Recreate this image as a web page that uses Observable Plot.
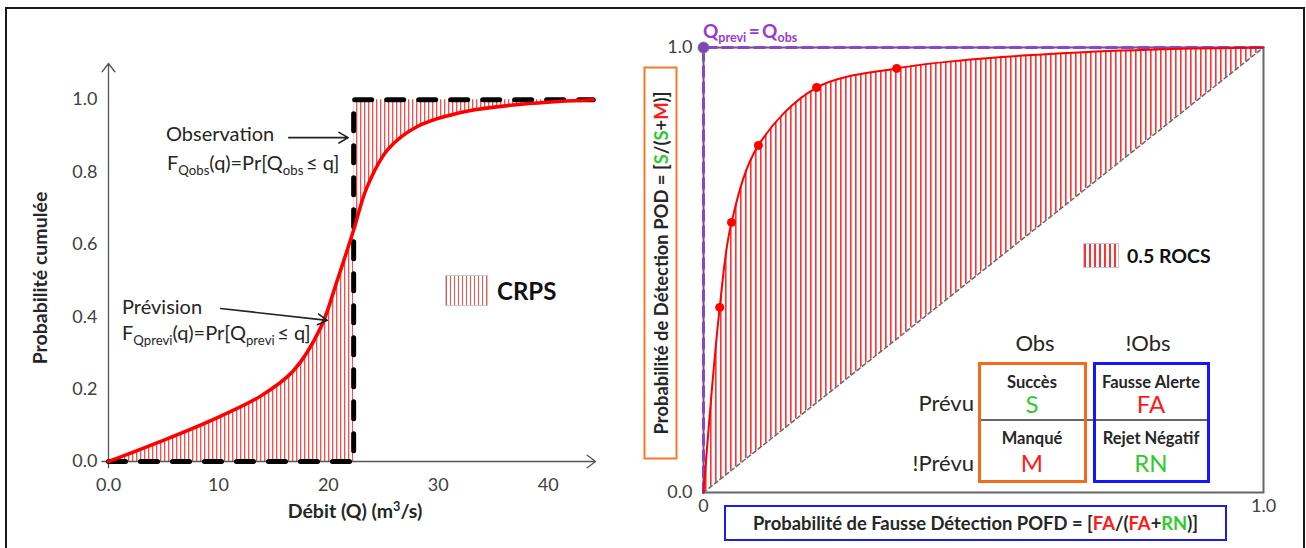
<!DOCTYPE html>
<html><head><meta charset="utf-8">
<script src="https://cdn.jsdelivr.net/npm/d3@7"></script>
<script src="https://cdn.jsdelivr.net/npm/@observablehq/plot@0.6"></script>
<style>
html,body{margin:0;padding:0;background:#fff;overflow:hidden;}
#wrap{position:relative;width:1306px;height:548px;font-family:Lato,"Open Sans",sans-serif;color:#262626;overflow:hidden;}
.abs{position:absolute;white-space:nowrap;line-height:1;z-index:5;}
#wrap svg{position:absolute;top:0;}
sub.s{font-size:0.66em;vertical-align:-0.35em;line-height:0;}
</style></head><body><div id="wrap"></div>
<script>
// ---------- DATA (left: CRPS) ----------
const qForecast = [0, 4.7, 9.3, 13.8, 16.8, 19.3, 20.8, 22.3, 23.5, 25.4, 28.1, 32.6, 38.6, 44.1];
const fForecast = [0, 0.055, 0.113, 0.18, 0.25, 0.37, 0.5, 0.64, 0.757, 0.862, 0.926, 0.968, 0.99, 1.0];
const qObservedStep = 22.3;
const obsQ = [0, 22.3, 22.3, 44.1];
const obsF = [0, 0, 1, 1];
const leftYTicks = [0, 0.2, 0.4, 0.6, 0.8, 1.0];
const leftXTicks = [0, 10, 20, 30, 40];
const leftXMax = 44.3, leftYMax = 1.1;
// annotation arrows (data units)
const annX1 = [16.4, 10.2], annY1 = [0.895, 0.423], annX2 = [21.8, 19.9], annY2 = [0.895, 0.39];

// ---------- DATA (right: ROC) ----------
const rocFA  = [0, 0.029, 0.05, 0.098, 0.202, 0.345, 0.46, 0.64, 0.82, 1];
const rocPOD = [0, 0.416, 0.607, 0.78, 0.91, 0.953, 0.971, 0.987, 0.996, 1];
const markerFA  = [0.029, 0.05, 0.098, 0.202, 0.345];
const markerPOD = [0.416, 0.607, 0.78, 0.91, 0.953];
const perfectFA  = [0, 0, 1];
const perfectPOD = [0, 1, 1];
const diagFA = [0, 1], diagPOD = [0, 1];
const rightTicks = [0, 1];

// ---------- tables ----------
const fc = qForecast.map((q, i) => ({q, f: fForecast[i]}));
const obs = obsQ.map((q, i) => ({q, f: obsF[i]}));
const ann = annX1.map((x1, i) => ({x1, y1: annY1[i], x2: annX2[i], y2: annY2[i]}));
const axisArrows = [
  {x1: -0.6, y1: 0, x2: leftXMax, y2: 0},
  {x1: 0, y1: -0.017, x2: 0, y2: leftYMax}
];
const roc = rocFA.map((fa, i) => ({fa, pod: rocPOD[i]}));
const markers = markerFA.map((fa, i) => ({fa, pod: markerPOD[i]}));
const perfect = perfectFA.map((fa, i) => ({fa, pod: perfectPOD[i]}));
const diag = diagFA.map((fa, i) => ({fa, pod: diagPOD[i]}));

const baseStyle = {fontFamily: "Lato, 'Open Sans', sans-serif", fontSize: "18px", color: "#404040", background: "transparent", overflow: "visible"};

const left = Plot.plot({
  width: 640, height: 548,
  marginLeft: 108, marginRight: 45, marginTop: 63, marginBottom: 87,
  x: {domain: [0, leftXMax]}, y: {domain: [0, leftYMax]},
  style: baseStyle,
  marks: [
    Plot.areaY(fc.filter(d => d.q <= qObservedStep), {x: "q", y1: 0, y2: "f", fill: "url(#hatchL)", curve: "catmull-rom"}),
    Plot.areaY(fc.filter(d => d.q >= qObservedStep), {x: "q", y1: "f", y2: 1, fill: "url(#hatchL)", curve: "catmull-rom"}),
    Plot.arrow(axisArrows, {x1: "x1", y1: "y1", x2: "x2", y2: "y2", stroke: "#555", strokeWidth: 1.3, headLength: 12, headAngle: 75}),
    Plot.line(obs, {x: "q", y: "f", stroke: "#000", strokeWidth: 5, strokeDasharray: "17,15"}),
    Plot.line(fc, {x: "q", y: "f", stroke: "#ff0000", strokeWidth: 3.5, curve: "catmull-rom"}),
    Plot.arrow(ann, {x1: "x1", y1: "y1", x2: "x2", y2: "y2", stroke: "#222", strokeWidth: 1.6, headLength: 10}),
    Plot.axisY(leftYTicks, {tickFormat: d => d.toFixed(1), tickSize: 0, tickPadding: 11, label: null}),
    Plot.axisX(leftXTicks, {tickFormat: d => d === 0 ? "0.0" : String(d), tickSize: 0, tickPadding: 17, label: null})
  ]
});
left.style.left = "0px";

const right = Plot.plot({
  width: 666, height: 548,
  marginLeft: 63, marginRight: 43, marginTop: 47, marginBottom: 56,
  x: {domain: [0, 1]}, y: {domain: [0, 1]},
  style: baseStyle,
  marks: [
    Plot.areaY(roc, {x: "fa", y1: "fa", y2: "pod", fill: "url(#hatchR)", curve: "catmull-rom"}),
    Plot.frame({stroke: "#666", strokeWidth: 2}),
    Plot.line(diag, {x: "fa", y: "pod", stroke: "#666", strokeWidth: 1.5, strokeDasharray: "4,3"}),
    Plot.line(perfect, {x: "fa", y: "pod", stroke: "#8a45cc", strokeWidth: 3, strokeDasharray: "10,6"}),
    Plot.line(roc, {x: "fa", y: "pod", stroke: "#ff0000", strokeWidth: 2, curve: "catmull-rom"}),
    Plot.dot(markers, {x: "fa", y: "pod", r: 4.5, fill: "#ff0000"}),
    Plot.dot(perfect.slice(1, 2), {x: "fa", y: "pod", r: 5.5, fill: "#8a3fc7", stroke: "#3a3", strokeWidth: 0.8}),
    Plot.axisY(rightTicks, {tickFormat: d => d.toFixed(1), tickSize: 0, tickPadding: 11, label: null}),
    Plot.axisX(rightTicks, {tickFormat: d => d === 0 ? "0" : "1.0", tickSize: 0, tickPadding: 7, label: null})
  ]
});
right.style.left = "640px";

function addPattern(svg, id, w, lineW, color) {
  const defs = d3.select(svg).insert("defs", ":first-child");
  const p = defs.append("pattern").attr("id", id).attr("patternUnits", "userSpaceOnUse")
    .attr("width", w).attr("height", 10);
  p.append("rect").attr("width", w).attr("height", 10).attr("fill", "#fff");
  p.append("rect").attr("x", 0).attr("width", lineW).attr("height", 10).attr("fill", color);
}
addPattern(left, "hatchL", 4, 1.3, "#ff4a4a");
addPattern(right, "hatchR", 5, 1.6, "#ff3030");

const wrap = document.getElementById("wrap");
wrap.appendChild(left);
wrap.appendChild(right);

function addDiv(css, html) {
  const d = document.createElement("div");
  d.className = "abs";
  d.style.cssText = css;
  if (html != null) d.innerHTML = html;
  wrap.appendChild(d);
  return d;
}
// text placed by left edge (or anchor) and vertical centre
function txt(html, x, y, css, anchor) {
  const tx = anchor === "middle" ? "-50%" : anchor === "end" ? "-100%" : "0";
  return addDiv(`left:${x}px;top:${y}px;transform:translate(${tx},-50%);${css || ""}`, html);
}

// outer frame
addDiv("left:5px;top:7px;width:1296px;height:600px;border:2px solid #1a1a1a;z-index:1;");

// ----- left panel texts -----
txt("Probabilité cumulée", 40, 278, "font-weight:700;font-size:19.5px;transform:translate(-50%,-50%) rotate(-90deg);");
txt("Débit (Q) (m<sup style='font-size:0.65em;vertical-align:0.6em;line-height:0'>3</sup>/s)", 355, 511, "font-weight:700;font-size:19.5px;", "middle");
txt("Observation", 166, 133, "font-size:20px;");
txt("F<sub class='s'>Qobs</sub>(q)=Pr[Q<sub class='s'>obs</sub>&thinsp;≤ q]", 167, 162, "font-size:20px;");
txt("Prévision", 122, 306, "font-size:20px;");
txt("F<sub class='s'>Qprevi</sub>(q)=Pr[Q<sub class='s'>previ</sub>&thinsp;≤ q]", 122, 332, "font-size:20px;");
addDiv("left:445px;top:275px;width:41px;height:29px;border:1px solid #c8c8c8;background:repeating-linear-gradient(90deg,#ff4a4a 0px,#ff4a4a 1.3px,#fff 1.3px,#fff 4px);");
txt("CRPS", 497, 291, "font-weight:700;font-size:24px;color:#111;");

// ----- right panel texts -----
txt("Q<sub class='s'>previ</sub>&thinsp;=&thinsp;Q<sub class='s'>obs</sub>", 703, 30, "font-weight:700;font-size:19px;color:#9a3bd0;");
addDiv("left:464px;top:246px;width:393px;height:34px;box-sizing:border-box;border:2px solid #f47a2a;transform:rotate(-90deg);display:flex;align-items:center;justify-content:center;font-weight:700;font-size:18.4px;",
  "Probabilité de Détection POD = [<span style='color:#2ecc2e'>S</span>/(<span style='color:#2ecc2e'>S</span>+<span style='color:#ff1a1a'>M</span>)]");
addDiv("left:724px;top:505px;width:503px;height:36px;box-sizing:border-box;border:2px solid #1c1cf0;display:flex;align-items:center;justify-content:center;font-weight:700;font-size:18.4px;",
  "Probabilité de Fausse Détection POFD = [<span style='color:#ff1a1a'>FA</span>/(<span style='color:#ff1a1a'>FA</span>+<span style='color:#2ecc2e'>RN</span>)]");
addDiv("left:1083px;top:243px;width:34px;height:23px;border:1px solid #c8c8c8;background:repeating-linear-gradient(90deg,#ff3030 0px,#ff3030 1.6px,#fff 1.6px,#fff 5px);");
txt("0.5 ROCS", 1127, 256, "font-weight:700;font-size:19.5px;color:#111;");

// contingency table
txt("Obs", 1035, 343, "font-size:22px;", "middle");
txt("!Obs", 1148, 343, "font-size:22px;", "middle");
txt("Prévu", 974, 403, "font-size:22px;", "end");
txt("!Prévu", 974, 463, "font-size:22px;", "end");
addDiv("left:978px;top:419px;width:232px;height:2px;background:#666;");
addDiv("left:978px;top:362px;width:109px;height:121px;box-sizing:border-box;border:3px solid #f26a1b;");
addDiv("left:1093px;top:362px;width:117px;height:121px;box-sizing:border-box;border:3px solid #1515ff;");
txt("Succès", 1032, 382, "font-weight:700;font-size:16.5px;", "middle");
txt("S", 1032, 404, "font-size:24px;color:#2ecc2e;", "middle");
txt("Fausse Alerte", 1151, 382, "font-weight:700;font-size:16.5px;", "middle");
txt("FA", 1151, 404, "font-size:24px;color:#ff1a1a;", "middle");
txt("Manqué", 1032, 438, "font-weight:700;font-size:16.5px;", "middle");
txt("M", 1032, 463, "font-size:24px;color:#ff1a1a;", "middle");
txt("Rejet Négatif", 1151, 438, "font-weight:700;font-size:16.5px;", "middle");
txt("RN", 1151, 463, "font-size:24px;color:#2ecc2e;", "middle");
</script></body></html>
